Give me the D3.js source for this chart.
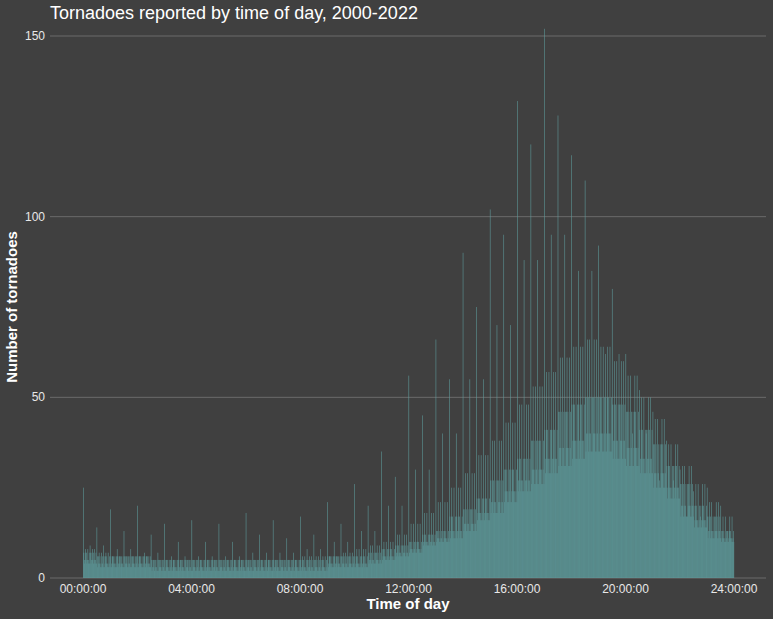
<!DOCTYPE html>
<html><head><meta charset="utf-8">
<script src="https://cdn.jsdelivr.net/npm/d3@7"></script>
<style>body{margin:0;background:#404040}svg{display:block}</style>
</head><body><svg id="c" width="773" height="619"></svg>
<script>
// readings per half hour (00:00, 00:30, ... 23:30) for ordinary minutes and :x5 minutes
var baseCount  = [5,4,4,4,4,3,3,3,3,3,3,3,3,3,3,3,3,3,4,4,4,5,6,7,8,10,11,13,15,18,21,24,27,30,33,36,38,40,40,38,36,33,29,25,20,16,13,11,9,8,7,6];
var fiveMinute = [8,7,6,6,6,5,5,5,5,5,5,5,5,5,5,5,6,6,6,7,8,9,10,12,15,18,21,25,29,34,38,43,48,53,57,61,64,66,64,60,56,50,44,37,31,26,21,17,14,12,10,9];
// per-hour readings (hours 0..23) for :00, :30, :15/:45
var topOfHour   = [25,19,20,15,16,15,18,16,17,21,26,35,56,66,90,102,132,152,117,92,62,46,30,25];
var halfHour    = [14,13,12,10,10,10,12,11,12,15,20,28,45,55,75,95,120,128,110,80,52,38,24,20];
var quarterHour = [9,8,7,6,6,6,7,7,8,10,13,20,30,40,55,70,88,95,85,62,40,27,17,13];
var xTicks = [0,4,8,12,16,20,24];
var yTicks = [0,50,100,150];

var minutes = d3.range(1440).map(function(m) {
	var h = Math.floor(m / 60), mm = m % 60, hh = Math.floor(m / 30), v;
	if (mm == 0) v = topOfHour[h];
	else if (mm == 30) v = halfHour[h];
	else if (mm == 15 || mm == 45) v = quarterHour[h];
	else if (mm % 5 == 0) v = fiveMinute[hh];
	else v = baseCount[hh] + (mm % 3 == 1 ? 2 : mm % 3 == 2 ? -1 : 0) * Math.max(1, Math.round(baseCount[hh] / 8));
	return {m: m, v: Math.max(0, v)};
});

var svg = d3.select('#c');
var x = d3.scaleLinear().domain([0, 1440]).range([83, 734]);
var y = d3.scaleLinear().domain([0, 150]).range([578, 36]);
var font = '"Liberation Sans", Arial, sans-serif';

svg.append('g').selectAll('line').data(yTicks).join('line')
	.attr('x1', 50).attr('x2', 766)
	.attr('y1', d => y(d)).attr('y2', d => y(d))
	.attr('stroke', '#6a6a6a').attr('stroke-width', 1);

var bw = (x(1) - x(0));
svg.append('g').selectAll('rect').data(minutes).join('rect')
	.attr('x', d => x(d.m)).attr('width', bw + 0.15)
	.attr('y', d => y(d.v)).attr('height', d => y(0) - y(d.v))
	.attr('fill', '#5f9ea0').attr('opacity', 0.9);

svg.append('g').selectAll('text').data(yTicks).join('text')
	.attr('x', 45).attr('y', d => y(d) + 4).attr('text-anchor', 'end')
	.attr('fill', '#e8e8e8').attr('font-family', font).attr('font-size', 12)
	.text(d => d);

svg.append('g').selectAll('text').data(xTicks).join('text')
	.attr('x', d => x(d * 60)).attr('y', 593).attr('text-anchor', 'middle')
	.attr('fill', '#e8e8e8').attr('font-family', font).attr('font-size', 12)
	.text(d => d3.format('02')(d) + ':00:00');

svg.append('text').attr('x', 408).attr('y', 609).attr('text-anchor', 'middle')
	.attr('fill', '#fff').attr('font-family', font).attr('font-size', 15).attr('font-weight', 'bold')
	.text('Time of day');
svg.append('text').attr('transform', 'translate(17,307) rotate(-90)').attr('text-anchor', 'middle')
	.attr('fill', '#fff').attr('font-family', font).attr('font-size', 15).attr('font-weight', 'bold')
	.text('Number of tornadoes');
svg.append('text').attr('x', 50).attr('y', 19)
	.attr('fill', '#fff').attr('font-family', font).attr('font-size', 18)
	.text('Tornadoes reported by time of day, 2000-2022');
</script></body></html>
